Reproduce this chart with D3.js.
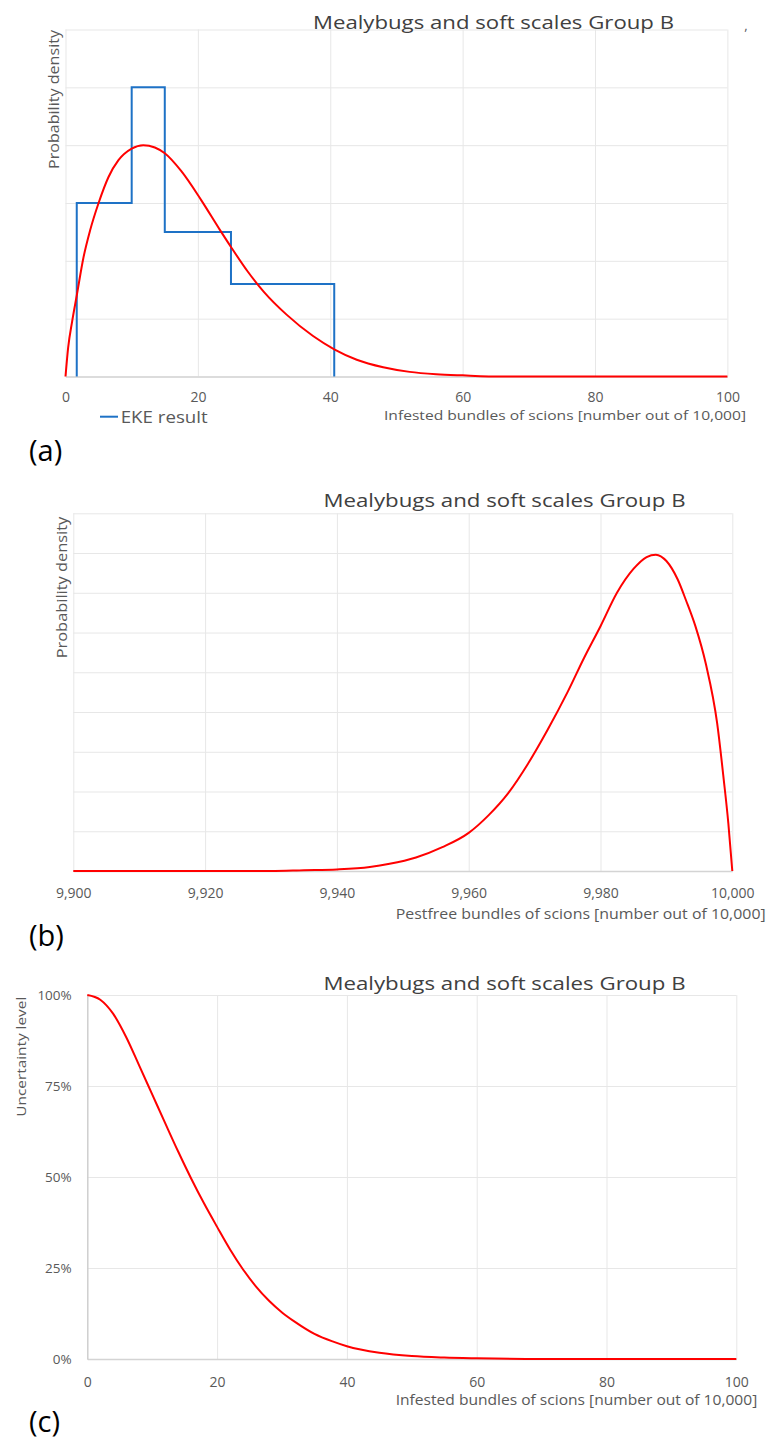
<!DOCTYPE html>
<html>
<head>
<meta charset="utf-8">
<script src="https://cdn.jsdelivr.net/npm/d3@7"></script>
<style>
  html, body { margin: 0; padding: 0; background: #fff; }
  svg { display: block; font-family: "Open Sans", sans-serif; }
</style>
</head>
<body>
<svg id="chart" width="767" height="1441"></svg>
<script>
const chartTitle = "Mealybugs and soft scales Group B";

// (a) expert knowledge elicitation: bin edges and densities (25 % per bin)
const ekeEdges = [1.7, 10, 15, 25, 40.6];
const ekeDensity = [0.030, 0.050, 0.025, 0.016];

// (a) fitted density of infested bundles
const infestedX = [0, 0.4, 1.0, 1.7, 2.7, 3.7, 5.0, 6.5, 8.0, 10, 11.75, 13.5, 15, 17.5, 20.5, 23.3, 25, 27.5, 30, 33.4, 37.4, 40.6, 44, 48, 52, 56, 60, 66, 80, 100];
const infestedDensity = [0, 0.0050, 0.0095, 0.0140, 0.0205, 0.0252, 0.0300, 0.0345, 0.0374, 0.0394, 0.0400, 0.0396, 0.0386, 0.0355, 0.0305, 0.0254, 0.0224, 0.0182, 0.0146, 0.0107, 0.0070, 0.0047, 0.0029, 0.0016, 0.0008, 0.0004, 0.0002, 0, 0, 0];

// (b) fitted density of pest-free bundles
const pestfreeX = [9900, 9930, 9935, 9940, 9945, 9948, 9952, 9956, 9960, 9963, 9966, 9969, 9972, 9975, 9977.5, 9980, 9982.5, 9985, 9987, 9988.4, 9990, 9991.7, 9993, 9994.4, 9996, 9997.7, 9998.7, 9999.4, 10000];
const pestfreeDensity = [0, 0, 0.0001, 0.0002, 0.0005, 0.0009, 0.0017, 0.0030, 0.0048, 0.0070, 0.0098, 0.0135, 0.0178, 0.0225, 0.0268, 0.0308, 0.0350, 0.0380, 0.0395, 0.0398, 0.0390, 0.0367, 0.0340, 0.0308, 0.0260, 0.0186, 0.0115, 0.0060, 0];

// (c) uncertainty (exceedance) curve
const uncertaintyX = [0, 2, 4, 6, 8, 10, 12, 14, 16, 18, 20, 22, 24, 26, 28, 30, 32, 35, 38, 40, 45, 50, 55, 60, 70, 100];
const uncertaintyLevel = [1, 0.987, 0.948, 0.884, 0.806, 0.727, 0.648, 0.570, 0.496, 0.427, 0.363, 0.301, 0.246, 0.199, 0.160, 0.128, 0.102, 0.069, 0.047, 0.035, 0.017, 0.008, 0.004, 0.002, 0, 0];

// tick values
const infestedTicks = [0, 20, 40, 60, 80, 100];
const pestfreeTicks = [9900, 9920, 9940, 9960, 9980, 10000];
const densityGridA = [0, 0.01, 0.02, 0.03, 0.04, 0.05, 0.06];
const densityGridB = [0, 0.005, 0.01, 0.015, 0.02, 0.025, 0.03, 0.035, 0.04, 0.045];
const uncertaintyTicks = [0, 0.25, 0.5, 0.75, 1];

const svg = d3.select("#chart");
svg.append("rect").attr("width", 767).attr("height", 1441).attr("fill", "#fff");

const GRID = "#e7e7e7", AXIS = "#d4d4d4", TXT = "#595959", TITLE = "#404040";
const RED = "#ff0000", BLUE = "#1e72c6";
const TICK_SIZE = 14;

function gridAndAxes(g, x, y, xTicks, yTicks, xFmt, xPad) {
  const [x0, x1] = x.range();
  const [y0, y1] = y.range();
  // horizontal grid
  g.append("g")
    .attr("transform", `translate(${x0},0)`)
    .call(d3.axisLeft(y).tickValues(yTicks).tickSize(-(x1 - x0)).tickFormat(""))
    .call(s => s.select(".domain").remove())
    .call(s => s.selectAll("line").attr("stroke", GRID).attr("stroke-width", 1));
  // vertical grid
  g.append("g")
    .attr("transform", `translate(0,${y1})`)
    .call(d3.axisBottom(x).tickValues(xTicks).tickSize(y0 - y1).tickFormat(""))
    .call(s => s.select(".domain").remove())
    .call(s => s.selectAll("line").attr("stroke", GRID).attr("stroke-width", 1));
  // bottom axis with labels
  g.append("g")
    .attr("transform", `translate(0,${y0})`)
    .call(d3.axisBottom(x).tickValues(xTicks).tickSize(0).tickPadding(xPad).tickFormat(xFmt))
    .call(s => s.select(".domain").attr("stroke", AXIS).attr("stroke-width", 1.4))
    .call(s => s.selectAll("text").attr("fill", TXT).attr("font-size", TICK_SIZE).attr("font-family", "Open Sans, sans-serif"));
}

function addText(x, y, str, o) {
  const t = svg.append("text")
    .attr("x", x).attr("y", y)
    .attr("fill", o.fill || TXT)
    .attr("font-size", o.size)
    .attr("text-anchor", o.anchor || "middle")
    .text(str);
  if (o.len) t.attr("textLength", o.len).attr("lengthAdjust", "spacingAndGlyphs");
  if (o.rotate) t.attr("transform", `rotate(-90,${x},${y})`).attr("dominant-baseline", "central");
  return t;
}

const fitLine = (x, y, xs) => d3.line()
  .x((d, i) => x(xs[i]))
  .y(d => y(d))
  .curve(d3.curveMonotoneX);

/* ---------- (a) ---------- */
{
  const x = d3.scaleLinear().domain([0, 100]).range([65.5, 727.4]);
  const y = d3.scaleLinear().domain([0, 0.06]).range([376.5, 29.5]);
  const g = svg.append("g");
  gridAndAxes(g, x, y, infestedTicks, densityGridA, d3.format("d"), 15.6);

  // EKE histogram outline
  const pts = [[ekeEdges[0], 0]];
  ekeDensity.forEach((d, i) => pts.push([ekeEdges[i], d]));
  pts.push([ekeEdges[ekeEdges.length - 1], 0]);
  g.append("path")
    .attr("d", d3.line().x(d => x(d[0])).y(d => y(d[1])).curve(d3.curveStepAfter)(pts))
    .attr("fill", "none").attr("stroke", BLUE).attr("stroke-width", 2);

  // fitted density
  g.append("path")
    .attr("d", fitLine(x, y, infestedX)(infestedDensity))
    .attr("fill", "none").attr("stroke", RED).attr("stroke-width", 2);

  addText(493.5, 29, chartTitle, { size: 19, fill: TITLE, len: 361 });
  addText(746, 30, ",", { size: 13 });
  addText(52.5, 99.5, "Probability density", { size: 15, rotate: true, len: 139 });
  addText(565, 420, "Infested bundles of scions [number out of 10,000]", { size: 13, len: 362 });

  // legend
  svg.append("line").attr("x1", 100).attr("x2", 118).attr("y1", 416.7).attr("y2", 416.7)
    .attr("stroke", BLUE).attr("stroke-width", 2);
  addText(120.7, 422.5, "EKE result", { size: 17, anchor: "start", len: 87 });

  addText(29, 461, "(a)", { size: 29, fill: "#000", anchor: "start" });
}

/* ---------- (b) ---------- */
{
  const x = d3.scaleLinear().domain([9900, 10000]).range([73.3, 732.3]);
  const y = d3.scaleLinear().domain([0, 0.045]).range([871, 513.3]);
  const g = svg.append("g");
  gridAndAxes(g, x, y, pestfreeTicks, densityGridB, d3.format(","), 17);

  g.append("path")
    .attr("d", fitLine(x, y, pestfreeX)(pestfreeDensity))
    .attr("fill", "none").attr("stroke", RED).attr("stroke-width", 2);

  addText(504.5, 507, chartTitle, { size: 19, fill: TITLE, len: 362 });
  addText(61, 587.5, "Probability density", { size: 15, rotate: true, len: 141.6 });
  addText(580.7, 919.3, "Pestfree bundles of scions [number out of 10,000]", { size: 14, len: 370 });
  addText(29, 946, "(b)", { size: 29, fill: "#000", anchor: "start" });
}

/* ---------- (c) ---------- */
{
  const x = d3.scaleLinear().domain([0, 100]).range([87.3, 736.3]);
  const y = d3.scaleLinear().domain([0, 1]).range([1359, 995]);
  const g = svg.append("g");
  gridAndAxes(g, x, y, infestedTicks, uncertaintyTicks, d3.format("d"), 17.7);

  // left axis with percentage labels
  g.append("g")
    .attr("transform", `translate(${x.range()[0]},0)`)
    .call(d3.axisLeft(y).tickValues(uncertaintyTicks).tickSize(0).tickPadding(15.6).tickFormat(d3.format(".0%")))
    .call(s => s.select(".domain").attr("stroke", "#c8c8c8").attr("stroke-width", 1.2))
    .call(s => s.selectAll("text").attr("fill", TXT).attr("font-size", 13.5).attr("font-family", "Open Sans, sans-serif"));

  g.append("path")
    .attr("d", fitLine(x, y, uncertaintyX)(uncertaintyLevel))
    .attr("fill", "none").attr("stroke", RED).attr("stroke-width", 2);

  addText(504.5, 990, chartTitle, { size: 19, fill: TITLE, len: 362 });
  addText(21, 1056.7, "Uncertainty level", { size: 13, rotate: true, len: 120 });
  addText(576.5, 1405, "Infested bundles of scions [number out of 10,000]", { size: 14, len: 361.6 });
  addText(29, 1432, "(c)", { size: 29, fill: "#000", anchor: "start" });
}
</script>
</body>
</html>
